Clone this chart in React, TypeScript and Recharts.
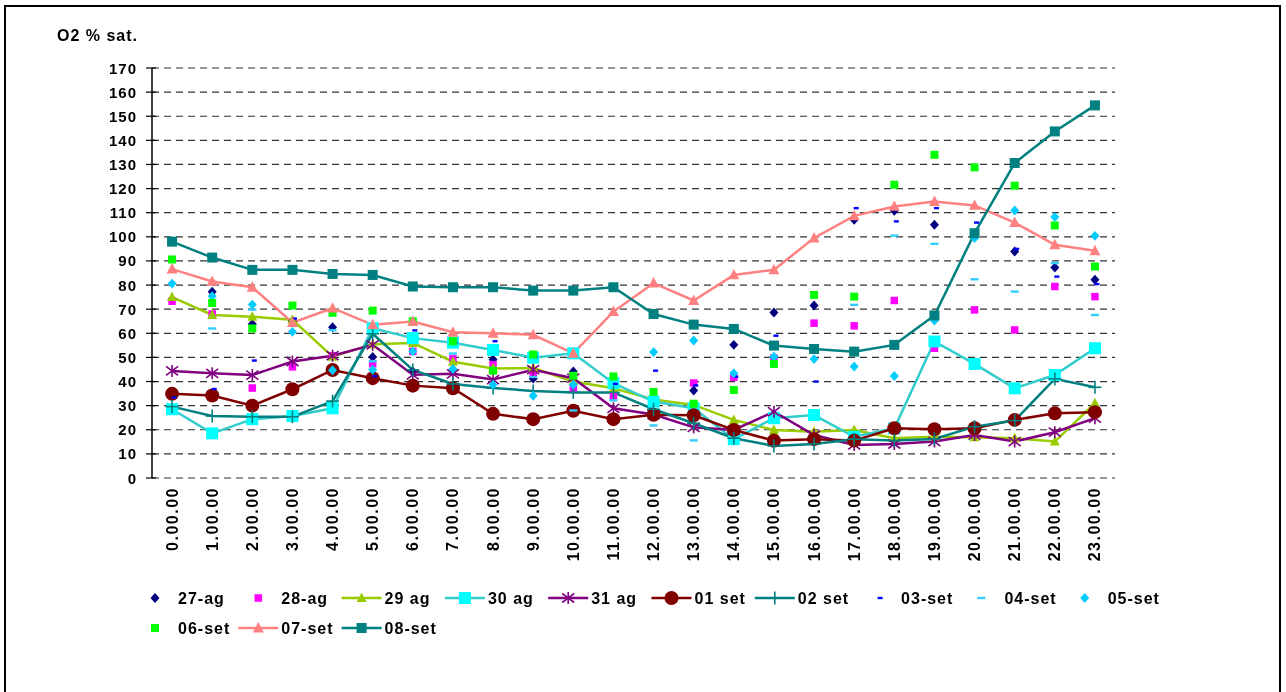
import React from 'react';
import { ComposedChart, Line, XAxis, YAxis, CartesianGrid, Legend } from 'recharts';

const FONT = '"Liberation Sans", Arial, Helvetica, sans-serif';

const categories = [
  '0.00.00', '1.00.00', '2.00.00', '3.00.00', '4.00.00', '5.00.00', '6.00.00', '7.00.00',
  '8.00.00', '9.00.00', '10.00.00', '11.00.00', '12.00.00', '13.00.00', '14.00.00', '15.00.00',
  '16.00.00', '17.00.00', '18.00.00', '19.00.00', '20.00.00', '21.00.00', '22.00.00', '23.00.00',
];

const yTicks = [0, 10, 20, 30, 40, 50, 60, 70, 80, 90, 100, 110, 120, 130, 140, 150, 160, 170];

const ag27 = [74, 77.2, 63.9, 65, 62.5, 50.2, 44.2, 45, 49.1, 41.2, 44.2, null, null, 36.3, 55.2, 68.6, 71.5, 107.1, 110.8, 105.0, null, 93.9, 87.3, 82.2];
const ag28 = [73.3, 68.0, 37.3, 46.1, 50.7, 47.4, 52.5, 49.4, 47.0, 43, 37.3, 33.8, null, 39.4, 41.8, 49.7, 64.2, 63.1, 73.6, 53.8, 69.7, 61.4, 79.4, 75.2];
const ag29 = [75.0, 67.6, 66.9, 65.6, 50.3, 55.5, 56.0, 48.2, 45.4, 45.6, 40.0, 37.2, 32.6, 30.3, 24.1, 19.9, 19.2, 19.9, 16.5, 17.1, 16.9, 16.5, 15.1, 31.0];
const ag30 = [28.5, 18.5, 24.4, 25.7, 28.9, 62.1, 58.0, 56.1, 53.1, 49.9, 51.7, 39.3, 31.7, 28.9, 16.1, 24.8, 26.1, 17.1, 20.6, 56.6, 47.3, 37.2, 42.7, 53.8];
const ag31 = [44.4, 43.4, 42.7, 48.3, 50.7, 55.2, 42.8, 43.2, 40.8, 44.9, 41.4, 28.9, 26.3, 21.0, 19.9, 27.5, 17.8, 13.7, 14.1, 15.1, 17.8, 15.1, 19.0, 24.8];
const set01 = [34.9, 34.2, 30.0, 36.8, 44.8, 41.4, 38.3, 37.2, 26.6, 24.4, 27.9, 24.4, 26.2, 26.0, 19.9, 15.5, 16.1, 15.5, 20.6, 20.2, 20.6, 24.1, 26.8, 27.3];
const set02 = [29.6, 25.7, 25.4, 25.4, 31.9, 59.8, 44.8, 39.0, 37.3, 36.1, 35.5, 35.5, 28.5, 22.7, 16.5, 13.3, 14.1, 16.1, 15.5, 16.2, 21.3, 23.8, 41.1, 37.6];
const set03 = [33.4, 36.9, 48.7, 66.1, null, 42.2, 61.2, 56.0, 56.7, 50.2, null, 39.0, 44.5, 38.4, 42.0, 59.0, 40.0, 111.9, 106.4, 111.9, 105.9, 95.0, 83.5, 80.4];
const set04 = [null, 62.0, 69.8, null, 61.3, 48.4, null, 51.6, null, 41.9, 28.0, 32.2, 21.8, 15.6, null, null, null, 71.8, 100.5, 97.1, 82.4, 77.3, 89.1, 67.6];
const set05 = [80.6, 75.4, 71.9, 60.6, 44.7, 44.9, 52.5, 45.2, 38.7, 34.1, 38.7, null, 52.2, 57.0, 43.4, 50.3, 49.3, 46.2, 42.3, 65.3, 99.5, 110.9, 108.2, 100.4];
const set06 = [90.6, 72.6, 62.0, 71.5, 68.5, 69.4, 65.0, 56.7, 44.5, 51.2, 42.4, 42.1, 35.7, 30.8, 36.5, 47.3, 75.9, 75.2, 121.6, 134.0, 128.8, 121.2, 104.7, 87.7];
const set07 = [86.6, 81.5, 79.1, 64.4, 70.4, 63.5, 64.9, 60.4, 60.0, 59.4, 51.7, 69.0, 80.8, 73.6, 84.2, 86.3, 99.5, 108.7, 112.6, 114.6, 113.0, 105.9, 96.7, 94.2];
const set08 = [98.0, 91.4, 86.3, 86.3, 84.6, 84.2, 79.4, 79.1, 79.1, 77.7, 77.7, 79.1, 68.0, 63.6, 61.8, 54.9, 53.5, 52.4, 55.2, 67.4, 101.5, 130.6, 143.7, 154.5];

type Def = {
  key: string;
  name: string;
  values: (number | null)[];
  lineColor: string | null;
  marker: string;
  fill: string;
  size: number;
  dx?: number;
};

const defs: Def[] = [
  { key: 'ag27', name: '27-ag', values: ag27, lineColor: null, marker: 'diamond', fill: '#000080', size: 9 },
  { key: 'ag28', name: '28-ag', values: ag28, lineColor: null, marker: 'square', fill: '#FF00FF', size: 7.5 },
  { key: 'ag29', name: '29 ag', values: ag29, lineColor: '#99CC00', marker: 'triangle', fill: '#99CC00', size: 10 },
  { key: 'ag30', name: '30 ag', values: ag30, lineColor: '#33CCCC', marker: 'square', fill: '#00FFFF', size: 12 },
  { key: 'ag31', name: '31 ag', values: ag31, lineColor: '#800080', marker: 'star', fill: '#800080', size: 12 },
  { key: 'set01', name: '01 set', values: set01, lineColor: '#800000', marker: 'circle', fill: '#800000', size: 14 },
  { key: 'set02', name: '02 set', values: set02, lineColor: '#008080', marker: 'plus', fill: '#008080', size: 13 },
  { key: 'set03', name: '03-set', values: set03, lineColor: null, marker: 'dash', fill: '#0000FF', size: 5, dx: 2 },
  { key: 'set04', name: '04-set', values: set04, lineColor: null, marker: 'dash', fill: '#33CCFF', size: 8 },
  { key: 'set05', name: '05-set', values: set05, lineColor: null, marker: 'diamond', fill: '#00CCFF', size: 9 },
  { key: 'set06', name: '06-set', values: set06, lineColor: null, marker: 'square', fill: '#00FF00', size: 8 },
  { key: 'set07', name: '07-set', values: set07, lineColor: '#FF8080', marker: 'triangle', fill: '#FF8080', size: 11 },
  { key: 'set08', name: '08-set', values: set08, lineColor: '#008080', marker: 'square', fill: '#008080', size: 10 },
];

function renderMarker(d: Def, cx: number, cy: number) {
  const s = d.size;
  const h = s / 2;
  switch (d.marker) {
    case 'diamond':
      return <polygon points={`${cx},${cy - h * 1.1} ${cx + h},${cy} ${cx},${cy + h * 1.1} ${cx - h},${cy}`} fill={d.fill} />;
    case 'square':
      return <rect x={cx - h} y={cy - h} width={s} height={s} fill={d.fill} />;
    case 'triangle':
      return <polygon points={`${cx},${cy - s * 0.55} ${cx + h},${cy + s * 0.4} ${cx - h},${cy + s * 0.4}`} fill={d.fill} />;
    case 'circle':
      return <circle cx={cx} cy={cy} r={h} fill={d.fill} />;
    case 'star':
      return (
        <g stroke={d.fill} strokeWidth={1.6}>
          <line x1={cx} y1={cy - h} x2={cx} y2={cy + h} />
          <line x1={cx - h} y1={cy - h * 0.75} x2={cx + h} y2={cy + h * 0.75} />
          <line x1={cx - h} y1={cy + h * 0.75} x2={cx + h} y2={cy - h * 0.75} />
        </g>
      );
    case 'plus':
      return (
        <g stroke={d.fill} strokeWidth={1.6}>
          <line x1={cx} y1={cy - h} x2={cx} y2={cy + h} />
          <line x1={cx - h} y1={cy} x2={cx + h} y2={cy} />
        </g>
      );
    case 'dash':
      return <rect x={cx - h} y={cy - 1.2} width={s} height={2.4} fill={d.fill} />;
    default:
      return null;
  }
}

const makeDot = (d: Def) => (props: any) => {
  const { cx, cy, index } = props;
  const k = `${d.key}-dot-${index}`;
  if (cx == null || cy == null || Number.isNaN(cy) || props.value == null) return <g key={k} />;
  return <g key={k}>{renderMarker(d, cx + (d.dx || 0), cy)}</g>;
};

const XTick = (props: any) => {
  const { x, y, payload } = props;
  const ty = y + 9;
  return (
    <text
      x={x}
      y={ty}
      transform={`rotate(-90 ${x} ${ty})`}
      textAnchor="end"
      dominantBaseline="central"
      fontFamily={FONT}
      fontWeight="bold"
      fontSize={16}
      letterSpacing={1.5}
      fill="#000"
    >
      {payload.value}
    </text>
  );
};

const YTick = (props: any) => {
  const { x, y, payload } = props;
  return (
    <g>
      <line x1={x - 6} x2={x + 4} y1={y} y2={y} stroke="#000" strokeWidth={1.2} />
      <text
        x={x - 15}
        y={y}
        textAnchor="end"
        dominantBaseline="central"
        fontFamily={FONT}
        fontWeight="bold"
        fontSize={15}
        letterSpacing={1}
        fill="#000"
      >
        {payload.value}
      </text>
    </g>
  );
};

const renderLegend = () => (
  <svg width={1270} height={70} style={{ display: 'block' }}>
    {defs.map((d, i) => {
      const col = i < 10 ? i : i - 10;
      const row = i < 10 ? 0 : 1;
      const cx = 147 + col * 103.3;
      const cy = 15 + row * 30;
      return (
        <g key={d.key}>
          {d.lineColor && <line x1={cx - 20} x2={cx + 20} y1={cy} y2={cy} stroke={d.lineColor} strokeWidth={2.5} />}
          {renderMarker(d, cx + (d.dx || 0), cy)}
          <text x={cx + 23} y={cy} dominantBaseline="central" fontFamily={FONT} fontWeight="bold" fontSize={16} letterSpacing={1} fill="#000">
            {d.name}
          </text>
        </g>
      );
    })}
  </svg>
);

const boundaryTicks = [0, ...categories.map((_, i) => i + 1)];

export default function App() {
  const data = categories.map((c, i) => {
    const row: any = { cat: c };
    defs.forEach((d) => {
      row[d.key] = d.values[i];
    });
    return row;
  });

  return (
    <div style={{ position: 'relative', width: 1270, height: 680, fontFamily: FONT }}>
      <div
        style={{
          position: 'fixed',
          left: 4,
          top: 5,
          width: 1277,
          height: 720,
          border: '2px solid #000',
          boxSizing: 'border-box',
          pointerEvents: 'none',
        }}
      />
      <div style={{ position: 'absolute', left: 49, top: 19, fontSize: 16, fontWeight: 'bold', letterSpacing: 1, whiteSpace: 'nowrap' }}>
        O2 % sat.
      </div>
      <ComposedChart width={1130} height={680} data={data} margin={{ top: 60, right: 23, left: 84, bottom: 120 }}>
        <CartesianGrid vertical={false} stroke="#333" strokeWidth={1.2} strokeDasharray="7 5" />
        <XAxis
          xAxisId="b"
          type="number"
          domain={[0, 24]}
          ticks={boundaryTicks}
          allowDataOverflow
          tick={false}
          tickSize={5}
          height={0}
          axisLine={{ stroke: '#000', strokeWidth: 1.5 }}
          tickLine={{ stroke: '#000', strokeWidth: 1.2 }}
        />
        <XAxis
          dataKey="cat"
          scale="band"
          height={90}
          interval={0}
          tickLine={false}
          axisLine={false}
          tickSize={0}
          tickMargin={0}
          tick={(p: any) => <XTick {...p} />}
        />
        <YAxis
          domain={[0, 170]}
          ticks={yTicks}
          interval={0}
          width={60}
          tickLine={false}
          tickSize={0}
          tickMargin={0}
          axisLine={{ stroke: '#000', strokeWidth: 1.5 }}
          tick={(p: any) => <YTick {...p} />}
        />
        {defs.map((d) => (
          <Line
            key={d.key}
            dataKey={d.key}
            name={d.name}
            type="linear"
            stroke={d.lineColor || 'none'}
            strokeWidth={d.lineColor ? 2.5 : 0}
            dot={makeDot(d)}
            activeDot={false}
            isAnimationActive={false}
            legendType="none"
          />
        ))}
        <Legend
          layout="horizontal"
          verticalAlign="middle"
          align="center"
          wrapperStyle={{ left: 0, top: 575, width: 1270, height: 70 }}
          content={renderLegend}
        />
      </ComposedChart>
    </div>
  );
}
